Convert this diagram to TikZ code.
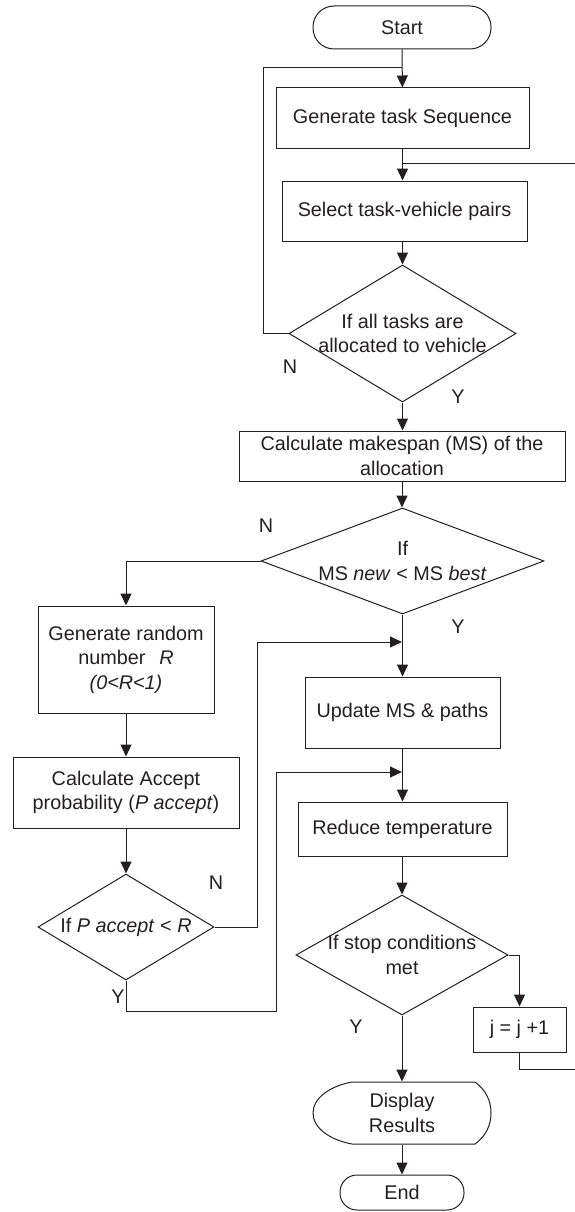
\documentclass[tikz,border=0pt]{standalone}
\usepackage{fontspec}
\setmainfont{Liberation Sans}
\usetikzlibrary{shapes.geometric,arrows.meta}
\definecolor{ink}{RGB}{35,31,32}
\begin{document}
\begin{tikzpicture}[x=1pt,y=-1pt, color=ink, line width=1pt,
  every node/.style={font=\fontsize{19.8}{24.5}\selectfont},
  box/.style={draw, rectangle, inner sep=2pt, align=center},
  term/.style={draw, rectangle, inner sep=2pt, align=center},
  dia/.style={draw, diamond, inner sep=0pt},
  ghost/.style={rectangle, inner sep=0pt, align=center},
  flow/.style={-{Triangle[length=12pt,width=11pt]}},
  lbl/.style={inner sep=0pt}]
\useasboundingbox (0,0) rectangle (574,1212);

% ---- main column ----
\node[term, rounded corners=21pt, minimum width=178pt, minimum height=43pt] (start) at (402,27.5) {Start};
\node[box, minimum width=253pt, minimum height=60pt] (gen) at (402.5,118) {Generate task Sequence};
\node[box, minimum width=245pt, minimum height=60pt] (sel) at (404.5,211) {Select task-vehicle pairs};
\node[dia, minimum width=227pt, minimum height=137pt] (d1) at (402.5,333.5) {};
\node[ghost] at (d1) {If all tasks are\\allocated to vehicle};
\node[box, minimum width=326pt, minimum height=50pt] (calc) at (402,456) {Calculate makespan (MS) of the\\allocation};
\node[dia, minimum width=283pt, minimum height=106pt] (d2) at (402.5,561) {};
\node[ghost] at (d2) {If\\MS \textit{new} < MS \textit{best}};
\node[box, minimum width=195pt, minimum height=71pt] (upd) at (402.5,712.5) {Update MS \& paths};
\node[box, minimum width=209pt, minimum height=54pt] (red) at (402.5,829) {Reduce temperature};
\node[dia, minimum width=212pt, minimum height=120pt] (d3) at (402,955) {};
\node[ghost] at (d3) {If stop conditions\\met};
\node[box, minimum width=93pt, minimum height=45pt] (jb) at (519.5,1029.5) {j = j +1};
\node[ghost, minimum width=178pt, minimum height=62pt] (disp) at (402,1113) {Display\\Results};
\node[term, rounded corners=17pt, minimum width=124pt, minimum height=35pt] (end) at (402,1192.5) {End};

% display symbol outline
\draw (352,1082) -- (475,1082)
  .. controls (486,1090) and (491,1101) .. (491,1113)
  .. controls (491,1125) and (486,1136) .. (475,1144)
  -- (352,1144)
  .. controls (330,1140) and (313,1128) .. (313,1113)
  .. controls (313,1098) and (330,1086) .. (352,1082) -- cycle;

% ---- left column ----
\node[box, minimum width=176pt, minimum height=107pt] (rand) at (126,659.5) {Generate random\\number\hspace{0.7em}\textit{R}\\\textit{(0<R<1)}};
\node[box, minimum width=226pt, minimum height=71pt] (acc) at (126,792.5) {Calculate Accept\\probability (\textit{P accept})};
\node[dia, minimum width=176pt, minimum height=106pt] (d4) at (126,927) {};
\node[ghost] at (d4) {If \textit{P accept} < \textit{R}};

% ---- branch labels ----
\node[lbl] at (290,367) {N};
\node[lbl] at (458,397) {Y};
\node[lbl] at (266,526) {N};
\node[lbl] at (458,627) {Y};
\node[lbl] at (216,883) {N};
\node[lbl] at (118,997) {Y};
\node[lbl] at (356,1027) {Y};

% ---- junction points ----
\coordinate (J1) at (402,68);
\coordinate (J2) at (402,163);
\coordinate (J3) at (402,642);
\coordinate (J4) at (402,772);
\coordinate (K0) at (263,68);
\coordinate (K1) at (257,642);
\coordinate (K2) at (276,772);
\coordinate (K3) at (590,1069);

% ---- connectors ----
\draw[flow] (start) -- (gen);
\draw (d1.west) -| (K0) -- (J1);
\draw[flow] (gen) -- (gen |- sel.north);
\draw (jb.south) |- (K3) |- (J2);
\draw[flow] (sel.south -| d1.north) -- (d1.north);
\draw[flow] (d1.south) -- (calc.north -| d1.south);
\draw[flow] (calc.south) -- (d2.north -| calc.south);
\draw[flow] (d2.west) -| (rand.north);
\draw[flow] (d2.south) -- (upd.north -| d2.south);
\draw[flow] (d4.east) -| (K1) -- (J3);
\draw[flow] (rand) -- (acc);
\draw[flow] (acc) -- (d4);
\draw[flow] (upd.south) -- (red.north);
\draw[flow] (d4.south) -- ++(0,31) -| (K2) -- (J4);
\draw[flow] (red.south -| d3.north) -- (d3.north);
\draw[flow] (d3.east) -| (jb.north);
\draw[flow] (d3.south) -- (disp.north);
\draw[flow] (disp.south) -- (end.north);
\end{tikzpicture}
\end{document}
